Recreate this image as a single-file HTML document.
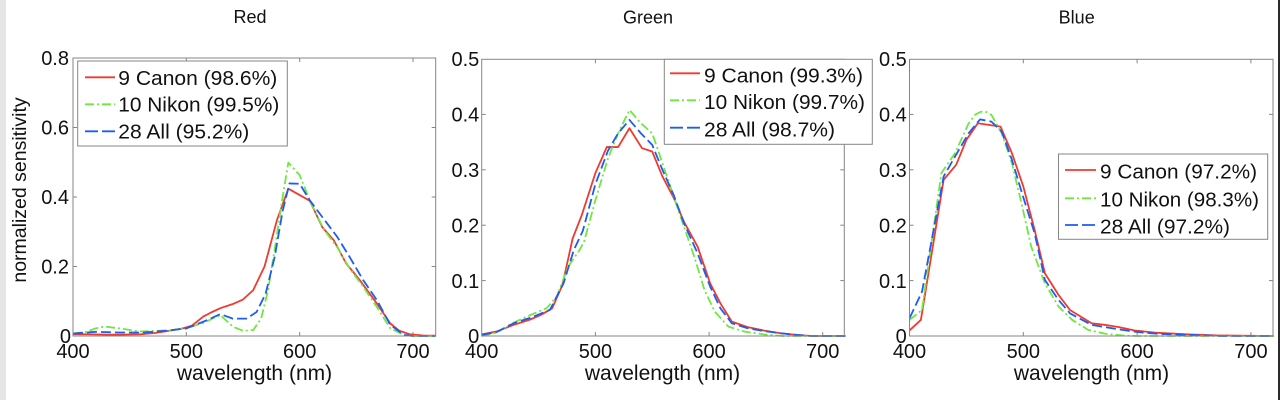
<!DOCTYPE html>
<html>
<head>
<meta charset="utf-8">
<style>
  html,body{margin:0;padding:0;background:#fff;}
  svg{display:block;}
  text{font-family:"Liberation Sans", Arial, sans-serif; fill:#111;}
  .ax{fill:none;stroke:#858585;stroke-width:1;}
  .tk{stroke:#858585;stroke-width:1;}
  .lg{fill:#fff;stroke:#858585;stroke-width:1;}
  .c{fill:none;stroke:#f2392d;stroke-width:1.8;vector-effect:non-scaling-stroke;stroke-linejoin:round;}
  .n{fill:none;stroke:#6fe83f;stroke-width:1.8;stroke-dasharray:9 3 2 3;vector-effect:non-scaling-stroke;stroke-linejoin:round;}
  .a{fill:none;stroke:#1d5cf5;stroke-width:1.8;stroke-dasharray:10 4;vector-effect:non-scaling-stroke;stroke-linejoin:round;}
  .lc{fill:none;stroke:#f2392d;stroke-width:1.8;}
  .ln{fill:none;stroke:#6fe83f;stroke-width:1.8;stroke-dasharray:9 3 2 3;}
  .la{fill:none;stroke:#1d5cf5;stroke-width:1.8;stroke-dasharray:13 4;}
  .tl{font-size:20px;}
  .lt{font-size:20px;}
  .yl{font-size:19.5px;}
  .xl{font-size:21px;}
  .ti{font-size:18px;}
</style>
</head>
<body>
<svg width="1280" height="400" viewBox="0 0 1280 400" xmlns="http://www.w3.org/2000/svg">
  <rect x="0" y="0" width="1280" height="400" fill="#fff"/>
  <rect x="0" y="0" width="6" height="400" fill="#e5e5e5"/>
  <rect x="1278" y="0" width="2" height="400" fill="#2a2a2a"/>

  <!-- ================= RED PANEL ================= -->
  <text class="ti" x="250" y="23" text-anchor="middle">Red</text>
  <text class="yl" transform="translate(26,190) rotate(-90)" text-anchor="middle">normalized sensitivity</text>
  <g>
    <line class="tk" x1="186.3" y1="58" x2="186.3" y2="62"/>
    <line class="tk" x1="299.7" y1="58" x2="299.7" y2="62"/>
    <line class="tk" x1="413" y1="58" x2="413" y2="62"/>
    <line class="tk" x1="186.3" y1="336" x2="186.3" y2="332"/>
    <line class="tk" x1="299.7" y1="336" x2="299.7" y2="332"/>
    <line class="tk" x1="413" y1="336" x2="413" y2="332"/>
    <line class="tk" x1="73" y1="266.5" x2="77" y2="266.5"/>
    <line class="tk" x1="73" y1="197" x2="77" y2="197"/>
    <line class="tk" x1="73" y1="127.5" x2="77" y2="127.5"/>
    <line class="tk" x1="435.7" y1="266.5" x2="431.7" y2="266.5"/>
    <line class="tk" x1="435.7" y1="197" x2="431.7" y2="197"/>
    <line class="tk" x1="435.7" y1="127.5" x2="431.7" y2="127.5"/>
    <g transform="translate(73,336) scale(1.1333,-347.5)">
      <polyline class="c" points="0,0.005 12,0.005 30,0.004 44,0.004 60,0.005 73,0.009 85,0.015 97,0.022 105,0.03 115,0.056 122,0.068 130,0.08 141,0.092 150,0.105 159,0.132 169,0.2 180,0.334 190,0.424 209,0.389 220,0.313 230,0.276 241,0.209 253,0.161 268,0.094 280,0.036 288,0.015 297,0.005 310,0.001 320,0.001"/>
      <polyline class="n" points="0,0.007 12,0.012 20,0.022 28,0.027 41,0.022 59,0.013 85,0.016 100,0.022 115,0.038 130,0.06 141,0.027 150,0.015 159,0.017 166,0.05 172,0.13 178,0.25 184,0.38 190,0.499 200,0.463 209,0.39 221,0.308 233,0.256 244,0.195 256,0.142 268,0.084 280,0.022 292,0.003 300,0 320,0"/>
      <polyline class="a" points="0,0.007 20,0.012 41,0.01 62,0.01 85,0.016 100,0.022 115,0.041 130,0.063 141,0.05 153,0.05 162,0.069 170,0.122 178,0.228 185,0.36 191,0.439 200,0.438 209,0.39 221,0.338 233,0.286 244,0.228 256,0.161 268,0.104 280,0.032 292,0.003 300,0 320,0"/>
    </g>
    <rect class="ax" x="73" y="58" width="362.7" height="278"/>
    <rect class="lg" x="77.7" y="61" width="209.6" height="85"/>
    <line class="lc" x1="85" y1="77.3" x2="115" y2="77.3"/>
    <line class="ln" x1="85" y1="104.3" x2="115" y2="104.3"/>
    <line class="la" x1="85" y1="131.3" x2="115" y2="131.3"/>
    <text class="lt" x="118.3" y="85" textLength="159" lengthAdjust="spacingAndGlyphs">9 Canon (98.6%)</text>
    <text class="lt" x="118.3" y="111.7" textLength="161" lengthAdjust="spacingAndGlyphs">10 Nikon (99.5%)</text>
    <text class="lt" x="118.3" y="138.3" textLength="131" lengthAdjust="spacingAndGlyphs">28 All (95.2%)</text>
    <text class="tl" x="69" y="65.2" text-anchor="end">0.8</text>
    <text class="tl" x="69" y="134.7" text-anchor="end">0.6</text>
    <text class="tl" x="69" y="204.2" text-anchor="end">0.4</text>
    <text class="tl" x="69" y="273.7" text-anchor="end">0.2</text>
    <text class="tl" x="71" y="343.2" text-anchor="end">0</text>
    <text class="tl" x="73" y="358" text-anchor="middle">400</text>
    <text class="tl" x="186.3" y="358" text-anchor="middle">500</text>
    <text class="tl" x="299.7" y="358" text-anchor="middle">600</text>
    <text class="tl" x="413" y="358" text-anchor="middle">700</text>
    <text class="xl" x="254.5" y="380" text-anchor="middle">wavelength (nm)</text>
  </g>

  <!-- ================= GREEN PANEL ================= -->
  <text class="ti" x="648" y="23.3" text-anchor="middle">Green</text>
  <g>
    <line class="tk" x1="595.4" y1="59.3" x2="595.4" y2="63.3"/>
    <line class="tk" x1="709.1" y1="59.3" x2="709.1" y2="63.3"/>
    <line class="tk" x1="822.7" y1="59.3" x2="822.7" y2="63.3"/>
    <line class="tk" x1="595.4" y1="336" x2="595.4" y2="332"/>
    <line class="tk" x1="709.1" y1="336" x2="709.1" y2="332"/>
    <line class="tk" x1="822.7" y1="336" x2="822.7" y2="332"/>
    <line class="tk" x1="481.7" y1="280.6" x2="485.7" y2="280.6"/>
    <line class="tk" x1="481.7" y1="225.2" x2="485.7" y2="225.2"/>
    <line class="tk" x1="481.7" y1="169.8" x2="485.7" y2="169.8"/>
    <line class="tk" x1="481.7" y1="114.4" x2="485.7" y2="114.4"/>
    <line class="tk" x1="844.3" y1="280.6" x2="840.3" y2="280.6"/>
    <line class="tk" x1="844.3" y1="225.2" x2="840.3" y2="225.2"/>
    <line class="tk" x1="844.3" y1="169.8" x2="840.3" y2="169.8"/>
    <g transform="translate(481.7,336) scale(1.1367,-554)">
      <polyline class="c" points="0,0.003 13,0.008 28,0.02 43,0.03 52,0.038 62,0.05 71,0.092 80,0.176 88,0.218 100,0.294 110,0.341 120,0.341 130,0.375 141,0.339 150,0.333 159,0.288 169,0.249 178,0.206 190,0.161 201,0.095 210,0.059 220,0.026 234,0.016 248,0.01 263,0.005 277,0.002 290,0 320,0"/>
      <polyline class="n" points="0,0 13,0.006 28,0.024 43,0.038 57,0.05 66,0.071 76,0.125 86,0.155 90,0.17 100,0.245 111,0.32 120,0.366 130,0.408 140,0.384 150,0.366 159,0.312 169,0.251 178,0.197 187,0.143 196,0.083 205,0.044 217,0.017 231,0.008 248,0.003 265,0 320,0"/>
      <polyline class="a" points="0,0.002 13,0.007 28,0.023 43,0.033 60,0.047 72,0.095 81,0.155 89,0.19 100,0.274 111,0.334 120,0.366 130,0.39 140,0.366 150,0.345 159,0.3 169,0.254 178,0.203 190,0.149 201,0.089 210,0.05 220,0.023 234,0.014 248,0.009 263,0.005 277,0.002 290,0 320,0"/>
    </g>
    <rect class="ax" x="481.7" y="59.3" width="362.6" height="276.7"/>
    <rect class="lg" x="664.3" y="59.3" width="208" height="85"/>
    <line class="lc" x1="670" y1="73.3" x2="700" y2="73.3"/>
    <line class="ln" x1="670" y1="100.3" x2="700" y2="100.3"/>
    <line class="la" x1="670" y1="127.7" x2="700" y2="127.7"/>
    <text class="lt" x="704" y="82.3" textLength="159" lengthAdjust="spacingAndGlyphs">9 Canon (99.3%)</text>
    <text class="lt" x="704" y="109" textLength="161" lengthAdjust="spacingAndGlyphs">10 Nikon (99.7%)</text>
    <text class="lt" x="704" y="136.7" textLength="131" lengthAdjust="spacingAndGlyphs">28 All (98.7%)</text>
    <text class="tl" x="479.3" y="66.2" text-anchor="end">0.5</text>
    <text class="tl" x="479.3" y="121.6" text-anchor="end">0.4</text>
    <text class="tl" x="479.3" y="177" text-anchor="end">0.3</text>
    <text class="tl" x="479.3" y="232.4" text-anchor="end">0.2</text>
    <text class="tl" x="479.3" y="287.8" text-anchor="end">0.1</text>
    <text class="tl" x="479.3" y="343.2" text-anchor="end">0</text>
    <text class="tl" x="481.7" y="358" text-anchor="middle">400</text>
    <text class="tl" x="595.4" y="358" text-anchor="middle">500</text>
    <text class="tl" x="709.1" y="358" text-anchor="middle">600</text>
    <text class="tl" x="822.7" y="358" text-anchor="middle">700</text>
    <text class="xl" x="662.5" y="380" text-anchor="middle">wavelength (nm)</text>
  </g>

  <!-- ================= BLUE PANEL ================= -->
  <text class="ti" x="1076.7" y="23.3" text-anchor="middle">Blue</text>
  <g>
    <line class="tk" x1="1023.3" y1="59.3" x2="1023.3" y2="63.3"/>
    <line class="tk" x1="1137.1" y1="59.3" x2="1137.1" y2="63.3"/>
    <line class="tk" x1="1250.9" y1="59.3" x2="1250.9" y2="63.3"/>
    <line class="tk" x1="1023.3" y1="336" x2="1023.3" y2="332"/>
    <line class="tk" x1="1137.1" y1="336" x2="1137.1" y2="332"/>
    <line class="tk" x1="1250.9" y1="336" x2="1250.9" y2="332"/>
    <line class="tk" x1="909.5" y1="280.6" x2="913.5" y2="280.6"/>
    <line class="tk" x1="909.5" y1="225.2" x2="913.5" y2="225.2"/>
    <line class="tk" x1="909.5" y1="169.8" x2="913.5" y2="169.8"/>
    <line class="tk" x1="909.5" y1="114.4" x2="913.5" y2="114.4"/>
    <line class="tk" x1="1273" y1="280.6" x2="1269" y2="280.6"/>
    <line class="tk" x1="1273" y1="114.4" x2="1269" y2="114.4"/>
    <g transform="translate(909.5,336) scale(1.138,-554)">
      <polyline class="c" points="0,0.01 10,0.029 30,0.282 41,0.309 50,0.354 60,0.384 80,0.378 90,0.33 100,0.27 110,0.191 119,0.113 131,0.074 141,0.047 160,0.023 172,0.02 184,0.016 198,0.01 216,0.006 245,0.003 270,0.001 320,0"/>
      <polyline class="n" points="0,0.029 11,0.047 28,0.294 40,0.33 52,0.384 58,0.4 63,0.405 68,0.404 72,0.399 81,0.366 90,0.312 99,0.234 107,0.161 119,0.095 131,0.053 143,0.029 157,0.011 172,0.004 187,0.001 200,0 320,0"/>
      <polyline class="a" points="0,0.032 11,0.08 30,0.288 40,0.324 52,0.366 62,0.391 72,0.387 81,0.369 90,0.318 99,0.257 110,0.185 119,0.101 131,0.065 141,0.041 160,0.02 172,0.016 187,0.011 201,0.007 218,0.004 245,0.002 275,0 320,0"/>
    </g>
    <rect class="ax" x="909.5" y="59.3" width="363.5" height="276.7"/>
    <rect class="lg" x="1058.5" y="154" width="209.2" height="85.3"/>
    <line class="lc" x1="1065" y1="170" x2="1096" y2="170"/>
    <line class="ln" x1="1065" y1="198.3" x2="1096" y2="198.3"/>
    <line class="la" x1="1065" y1="225" x2="1095" y2="225"/>
    <text class="lt" x="1100" y="178.3" textLength="157" lengthAdjust="spacingAndGlyphs">9 Canon (97.2%)</text>
    <text class="lt" x="1100" y="206.7" textLength="159" lengthAdjust="spacingAndGlyphs">10 Nikon (98.3%)</text>
    <text class="lt" x="1100" y="233.3" textLength="130" lengthAdjust="spacingAndGlyphs">28 All (97.2%)</text>
    <text class="tl" x="906.8" y="66.2" text-anchor="end">0.5</text>
    <text class="tl" x="906.8" y="121.6" text-anchor="end">0.4</text>
    <text class="tl" x="906.8" y="177" text-anchor="end">0.3</text>
    <text class="tl" x="906.8" y="232.4" text-anchor="end">0.2</text>
    <text class="tl" x="906.8" y="287.8" text-anchor="end">0.1</text>
    <text class="tl" x="906.8" y="343.2" text-anchor="end">0</text>
    <text class="tl" x="909.5" y="358" text-anchor="middle">400</text>
    <text class="tl" x="1023.3" y="358" text-anchor="middle">500</text>
    <text class="tl" x="1137.1" y="358" text-anchor="middle">600</text>
    <text class="tl" x="1250.9" y="358" text-anchor="middle">700</text>
    <text class="xl" x="1091.5" y="380" text-anchor="middle">wavelength (nm)</text>
  </g>
</svg>
</body>
</html>
